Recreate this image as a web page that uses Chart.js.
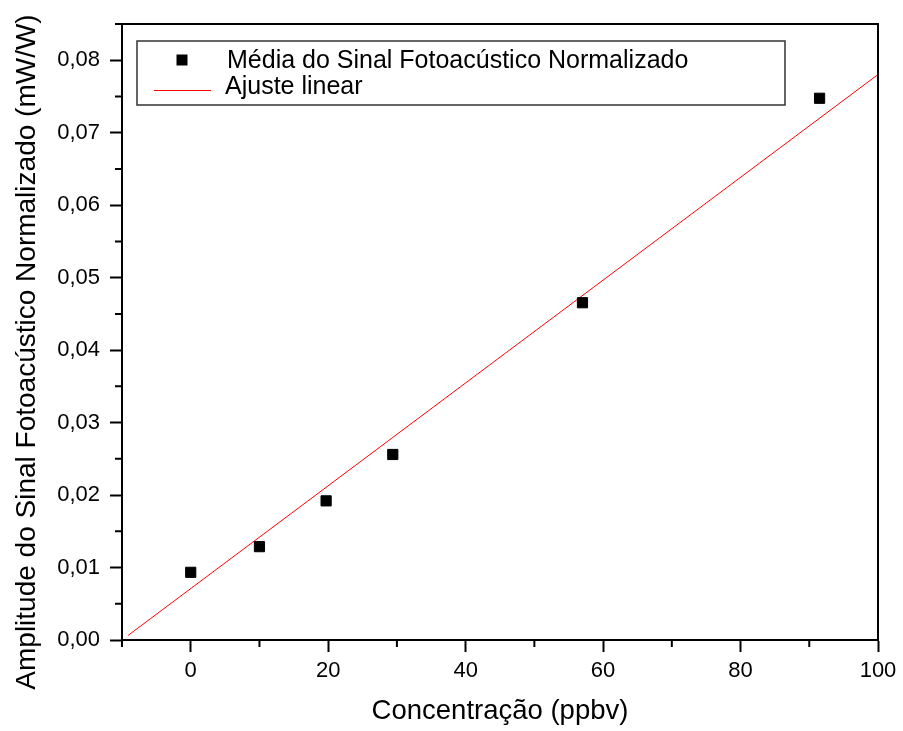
<!DOCTYPE html>
<html>
<head>
<meta charset="utf-8">
<script src="https://cdn.jsdelivr.net/npm/chart.js@4.4.1/dist/chart.umd.min.js"></script>
<style>
html, body { margin: 0; padding: 0; background: #fff; }
#wrap { width: 903px; height: 731px; }
</style>
</head>
<body>
<div id="wrap"><canvas id="chart" width="903" height="731"></canvas></div>
<script>
const concentracao = [0, 10, 19.7, 29.4, 57.0, 91.5];
const amplitude = [0.00934, 0.01288, 0.0192, 0.0256, 0.04654, 0.07475];

// 선형 적합 직선의 양 끝점
const ajusteX = [-9.1, 100];
const ajusteY = [0.00064, 0.07803];

// 축 눈금
const xTicks = [0, 20, 40, 60, 80, 100];
const xMinorTicks = [-10, 10, 30, 50, 70, 90];
const yTicks = [0, 0.01, 0.02, 0.03, 0.04, 0.05, 0.06, 0.07, 0.08];
const yTickLabels = ['0,00', '0,01', '0,02', '0,03', '0,04', '0,05', '0,06', '0,07', '0,08'];
const yMinorTicks = [0.005, 0.015, 0.025, 0.035, 0.045, 0.055, 0.065, 0.075, 0.085];

const serieLabel = 'Média do Sinal Fotoacústico Normalizado';
const ajusteLabel = 'Ajuste linear';
const xTitle = 'Concentração (ppbv)';
const yTitle = 'Amplitude do Sinal Fotoacústico Normalizado (mW/W)';

const FONT = '"Liberation Sans", Arial, sans-serif';

// 테두리, 보조 눈금, y축 제목, 범례를 그리는 플러그인
const framePlugin = {
    id: 'frame',
    afterDraw(chart) {
        const ctx = chart.ctx;
        const area = chart.chartArea;
        const xs = chart.scales.x;
        const ys = chart.scales.y;
        ctx.save();

        // 그래프 외곽 사각형
        ctx.strokeStyle = '#000';
        ctx.lineWidth = 2;
        ctx.strokeRect(area.left, area.top, area.right - area.left, area.bottom - area.top);

        // 보조 눈금
        ctx.beginPath();
        xMinorTicks.forEach(v => {
            const px = xs.getPixelForValue(v);
            ctx.moveTo(px, area.bottom);
            ctx.lineTo(px, area.bottom + 7);
        });
        yMinorTicks.forEach(v => {
            const py = ys.getPixelForValue(v);
            ctx.moveTo(area.left, py);
            ctx.lineTo(area.left - 7, py);
        });
        ctx.stroke();

        // y축 제목
        ctx.fillStyle = '#000';
        ctx.font = '28px ' + FONT;
        ctx.textAlign = 'center';
        ctx.textBaseline = 'middle';
        ctx.translate(27, 352);
        ctx.rotate(-Math.PI / 2);
        ctx.fillText(yTitle, 0, 0);
        ctx.setTransform(1, 0, 0, 1, 0, 0);

        // 범례
        const lx = area.left + 15;
        const ly = area.top + 17;
        ctx.strokeStyle = '#333';
        ctx.lineWidth = 1.5;
        ctx.strokeRect(lx, ly, 648, 64);

        ctx.fillStyle = '#000';
        ctx.fillRect(lx + 39.5, ly + 13.5, 11, 11);
        ctx.strokeStyle = '#ff0000';
        ctx.lineWidth = 1;
        ctx.beginPath();
        ctx.moveTo(lx + 17, ly + 49.5);
        ctx.lineTo(lx + 74, ly + 49.5);
        ctx.stroke();

        ctx.font = '25px ' + FONT;
        ctx.textAlign = 'left';
        ctx.textBaseline = 'alphabetic';
        ctx.fillText(serieLabel, lx + 90, ly + 27);
        ctx.fillText(ajusteLabel, lx + 88, ly + 53);

        ctx.restore();
    }
};

document.addEventListener('DOMContentLoaded', function() {
    const ctx = document.getElementById('chart').getContext('2d');

    new Chart(ctx, {
        type: 'scatter',
        data: {
            datasets: [{
                label: serieLabel,
                data: concentracao.map((x, i) => ({ x: x, y: amplitude[i] })),
                backgroundColor: '#000',
                borderColor: '#000',
                borderWidth: 1,
                pointStyle: 'rect',
                pointRadius: 7.2,
                pointHoverRadius: 7.2
            }, {
                label: ajusteLabel,
                type: 'line',
                data: ajusteX.map((x, i) => ({ x: x, y: ajusteY[i] })),
                borderColor: '#ff0000',
                borderWidth: 1,
                pointRadius: 0,
                showLine: true,
                fill: false
            }]
        },
        options: {
            responsive: false,
            animation: false,
            layout: { padding: { top: 24, right: 25, left: 0, bottom: 0 } },
            plugins: {
                legend: { display: false },
                tooltip: { enabled: false }
            },
            scales: {
                x: {
                    type: 'linear',
                    min: -10,
                    max: 100,
                    afterBuildTicks: s => { s.ticks = xTicks.map(v => ({ value: v })); },
                    afterFit: s => { s.height = 91; },
                    grid: {
                        drawOnChartArea: false,
                        drawTicks: true,
                        tickLength: 12,
                        tickWidth: 2,
                        tickColor: '#000'
                    },
                    border: { display: true, color: '#000', width: 2 },
                    ticks: {
                        color: '#000',
                        padding: 6,
                        maxRotation: 0,
                        font: { family: FONT, size: 22 },
                        callback: v => String(v)
                    },
                    title: {
                        display: true,
                        text: xTitle,
                        color: '#000',
                        font: { family: FONT, size: 27.5 },
                        padding: { top: 0, bottom: 3 }
                    }
                },
                y: {
                    type: 'linear',
                    min: 0,
                    max: 0.085,
                    afterBuildTicks: s => { s.ticks = yTicks.map(v => ({ value: v })); },
                    afterFit: s => { s.width = 122; },
                    grid: {
                        drawOnChartArea: false,
                        drawTicks: true,
                        tickLength: 12,
                        tickWidth: 2,
                        tickColor: '#000'
                    },
                    border: { display: true, color: '#000', width: 2 },
                    ticks: {
                        color: '#000',
                        padding: 10,
                        font: { family: FONT, size: 22 },
                        callback: (v, i) => yTickLabels[i]
                    }
                }
            }
        },
        plugins: [framePlugin]
    });
});
</script>
</body>
</html>
